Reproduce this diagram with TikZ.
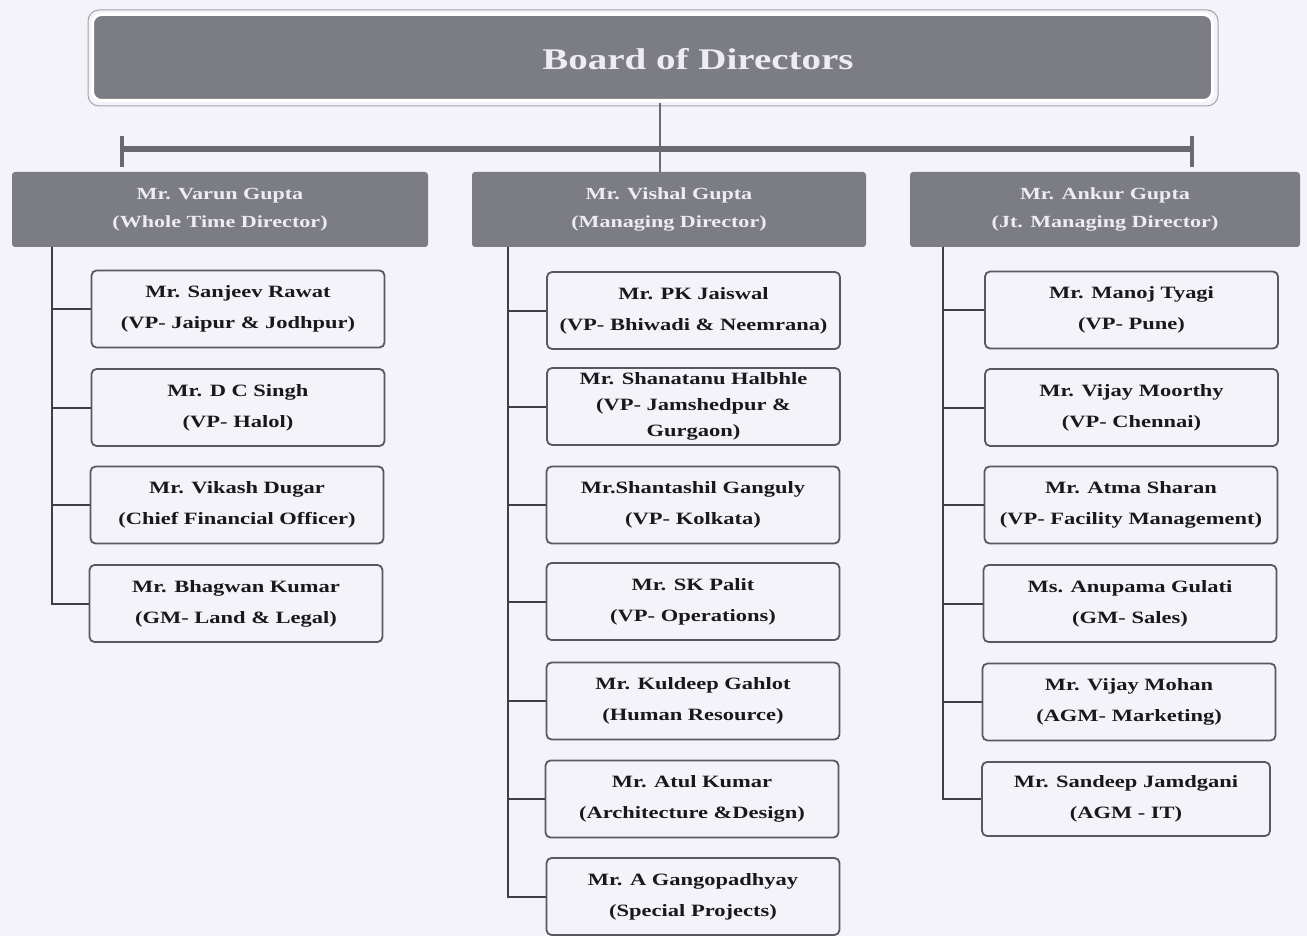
\documentclass[tikz,border=0pt]{standalone}
\usepackage{fontspec}
\setmainfont{Liberation Serif}[FakeStretch=1.3]
\definecolor{bgc}{RGB}{245,243,250}
\definecolor{hdrc}{RGB}{124,124,133}
\definecolor{hdrtxt}{RGB}{236,236,242}
\definecolor{boxline}{RGB}{88,88,98}
\definecolor{linec}{RGB}{62,62,72}
\definecolor{barc}{RGB}{105,105,115}
\tikzset{
  boardbox/.style={rounded corners=9pt, fill=hdrc, draw=white, line width=3pt,
    minimum width=1120pt, minimum height=86pt},
  boardtext/.style={text=hdrtxt, font=\fontsize{30}{32}\selectfont\bfseries},
  hdrbox/.style={rounded corners=3pt, fill=hdrc, draw=none, text=hdrtxt,
    minimum height=75pt, align=center, inner sep=0pt,
    font=\fontsize{17}{28}\selectfont\bfseries},
  childbox/.style={rounded corners=5pt, fill=bgc, draw=boxline, line width=1.8pt,
    minimum width=293pt, minimum height=77pt, align=center, inner sep=0pt,
    text=black!90, font=\fontsize{17.3}{31}\selectfont\bfseries},
  conn/.style={draw=linec, line width=2pt},
}
\begin{document}
\begin{tikzpicture}[x=1pt,y=-1pt]
\fill[bgc] (0,0) rectangle (1307,936);
\useasboundingbox (0,0) rectangle (1307,936);
% board
\draw[rounded corners=11pt, draw=hdrc!70, line width=1pt] (88,10) rectangle (1218,106);
\node[boardbox] (board) at (652.5,57.5) {};
\node[boardtext] (boardlbl) at (698,59) {Board of Directors};
% headers
\node[hdrbox, minimum width=416pt] (varun) at (220,209.5) {Mr. Varun Gupta\\(Whole Time Director)};
\node[hdrbox, minimum width=394pt] (vishal) at (669,209.5) {Mr. Vishal Gupta\\(Managing Director)};
\node[hdrbox, minimum width=390pt] (ankur) at (1105,209.5) {Mr. Ankur Gupta\\(Jt. Managing Director)};
% bar
\coordinate (bt) at (660,103);
\coordinate (bl) at (122,149);
\coordinate (br) at (1192,149);
\draw[barc, line width=5.5pt] (bl) -- (br);
\draw[barc, line width=3.5pt] ([yshift=-18pt]bl) -- ([yshift=13pt]bl);
\draw[barc, line width=3.5pt] ([yshift=-18pt]br) -- ([yshift=13pt]br);
\draw[conn, line width=2.5pt, draw=barc] (bt) -- (bt |- vishal.north);
% left column
\node[childbox] (c1) at (238,309) {Mr. Sanjeev Rawat\\(VP- Jaipur \& Jodhpur)};
\node[childbox] (c2) at (238,407.5) {Mr. D C Singh\\(VP- Halol)};
\node[childbox] (c3) at (237,505) {Mr. Vikash Dugar\\(Chief Financial Officer)};
\node[childbox] (c4) at (236,603.5) {Mr. Bhagwan Kumar\\(GM- Land \& Legal)};
\coordinate (ls) at (52,247);
\foreach \n in {c1,c2,c3,c4} \draw[conn] (ls) |- (\n.west);
% middle column
\node[childbox] (m1) at (693.5,310.5) {Mr. PK Jaiswal\\(VP- Bhiwadi \& Neemrana)};
\node[childbox, font=\fontsize{17.3}{26}\selectfont\bfseries] (m2) at (693.5,406.5) {Mr. Shanatanu Halbhle\\(VP- Jamshedpur \&\\Gurgaon)};
\node[childbox] (m3) at (693,505) {Mr.Shantashil Ganguly\\(VP- Kolkata)};
\node[childbox] (m4) at (693,601.5) {Mr. SK Palit\\(VP- Operations)};
\node[childbox] (m5) at (693,701) {Mr. Kuldeep Gahlot\\(Human Resource)};
\node[childbox] (m6) at (692,799) {Mr. Atul Kumar\\(Architecture \&Design)};
\node[childbox] (m7) at (693,896.5) {Mr. A Gangopadhyay\\(Special Projects)};
\coordinate (ms) at (508,247);
\foreach \n in {m1,m2,m3,m4,m5,m6,m7} \draw[conn] (ms) |- (\n.west);
% right column
\node[childbox] (r1) at (1131.5,310) {Mr. Manoj Tyagi\\(VP- Pune)};
\node[childbox] (r2) at (1131.5,407.5) {Mr. Vijay Moorthy\\(VP- Chennai)};
\node[childbox] (r3) at (1131,505) {Mr. Atma Sharan\\(VP- Facility Management)};
\node[childbox] (r4) at (1130,603.5) {Ms. Anupama Gulati\\(GM- Sales)};
\node[childbox] (r5) at (1129,702) {Mr. Vijay Mohan\\(AGM- Marketing)};
\node[childbox, minimum width=288pt, minimum height=74pt] (r6) at (1126,799) {Mr. Sandeep Jamdgani\\(AGM - IT)};
\coordinate (rs) at (943,247);
\foreach \n in {r1,r2,r3,r4,r5,r6} \draw[conn] (rs) |- (\n.west);
\end{tikzpicture}
\end{document}
